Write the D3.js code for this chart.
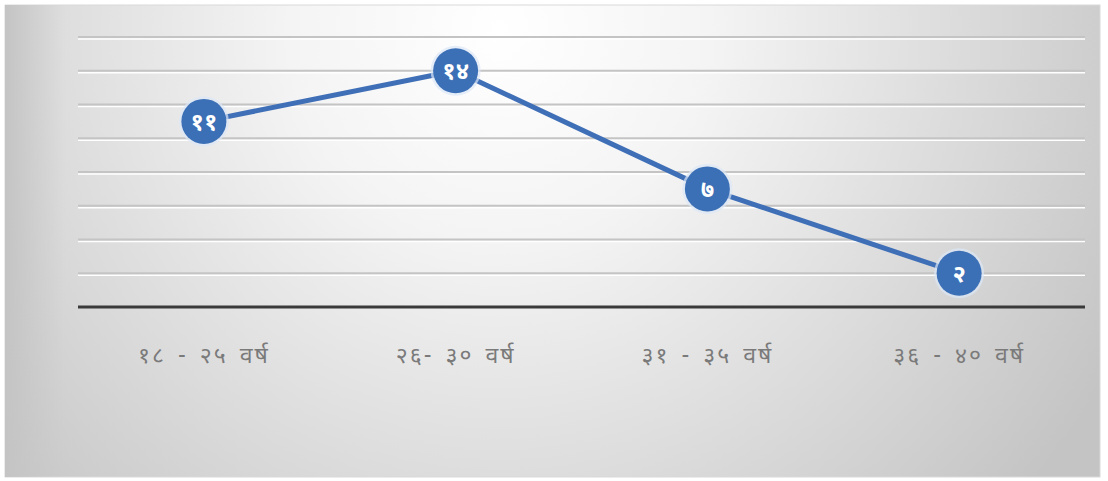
<!DOCTYPE html>
<html>
<head>
<meta charset="utf-8">
<script src="https://cdn.jsdelivr.net/npm/d3@7"></script>
<style>
  html, body { margin: 0; padding: 0; background: #fff; }
  svg { display: block; }
</style>
</head>
<body>
<div id="chart"></div>
<script>
var categories = ['१८ - २५ वर्ष', '२६- ३० वर्ष', '३१ - ३५ वर्ष', '३६ - ४० वर्ष'];
var values = [11, 14, 7, 2];
var valueLabels = ['११', '१४', '७', '२'];
var yTicks = [2, 4, 6, 8, 10, 12, 14, 16];

var width = 1108, height = 481;
var plotLeft = 78, plotRight = 1085, plotTop = 37, plotBottom = 307;

var svg = d3.select('#chart').append('svg')
    .attr('width', width)
    .attr('height', height);

var defs = svg.append('defs');
var bg = defs.append('radialGradient')
    .attr('id', 'bg')
    .attr('gradientUnits', 'userSpaceOnUse')
    .attr('cx', 500).attr('cy', 30).attr('r', 700)
    .attr('fx', 500).attr('fy', 30);
bg.append('stop').attr('offset', '0%').attr('stop-color', '#ffffff');
bg.append('stop').attr('offset', '30%').attr('stop-color', '#f4f4f4');
bg.append('stop').attr('offset', '100%').attr('stop-color', '#c4c4c4');

var edge = defs.append('linearGradient').attr('id', 'edge');
edge.append('stop').attr('offset', '0%').attr('stop-color', '#c4c4c4');
edge.append('stop').attr('offset', '100%').attr('stop-color', '#c8c8c8').attr('stop-opacity', 0);

svg.append('rect')
    .attr('x', 5).attr('y', 5)
    .attr('width', 1095).attr('height', 472)
    .attr('fill', 'url(#bg)')
    .attr('stroke', '#d9d9d9');
svg.append('rect')
    .attr('x', 5).attr('y', 5)
    .attr('width', 60).attr('height', 472)
    .attr('fill', 'url(#edge)');

var x = d3.scaleBand().domain(categories).range([plotLeft, plotRight]);
var y = d3.scaleLinear().domain([0, 16]).range([plotBottom, plotTop]);

// gridlines with a light emboss
var grid = svg.append('g');
grid.selectAll('line.shadow').data(yTicks).enter().append('line')
    .attr('x1', plotLeft).attr('x2', plotRight)
    .attr('y1', function(d) { return y(d) + 2; })
    .attr('y2', function(d) { return y(d) + 2; })
    .style('stroke', '#ffffff').style('stroke-width', 1.5);
grid.selectAll('line.main').data(yTicks).enter().append('line')
    .attr('x1', plotLeft).attr('x2', plotRight)
    .attr('y1', function(d) { return y(d); })
    .attr('y2', function(d) { return y(d); })
    .style('stroke', '#c4c4c4').style('stroke-width', 2);

// baseline
svg.append('line')
    .attr('x1', plotLeft).attr('x2', plotRight)
    .attr('y1', y(0)).attr('y2', y(0))
    .style('stroke', '#3a3a3a').style('stroke-width', 3);

var xAxis = svg.append('g')
    .attr('transform', 'translate(0,' + y(0) + ')')
    .call(d3.axisBottom(x).tickSize(0).tickPadding(40));
xAxis.select('.domain').remove();
xAxis.selectAll('text')
    .style('font-family', '"Noto Sans Devanagari", "Lohit Devanagari", "Noto Sans", sans-serif')
    .style('font-size', '23px')
    .style('letter-spacing', '2px')
    .style('word-spacing', '4px')
    .style('fill', '#7a7a7a');

var cx = function(i) { return x(categories[i]) + x.bandwidth() / 2; };

var line = d3.line()
    .x(function(d, i) { return cx(i); })
    .y(function(d) { return y(d); });

svg.append('path')
    .datum(values)
    .attr('d', line)
    .style('fill', 'none')
    .style('stroke', '#3f6fb7')
    .style('stroke-width', 5)
    .style('stroke-linejoin', 'round');

var pts = svg.selectAll('.pt').data(values).enter().append('g')
    .attr('transform', function(d, i) { return 'translate(' + cx(i) + ',' + y(d) + ')'; });

pts.append('circle')
    .attr('r', 25)
    .style('fill', '#dbe7f7')
    .style('opacity', 0.7);
pts.append('circle')
    .attr('r', 22.5)
    .style('fill', '#3b6fb6');

pts.append('text')
    .attr('dy', '0.35em')
    .style('text-anchor', 'middle')
    .style('font-family', '"Noto Sans Devanagari", "Lohit Devanagari", "Noto Sans", sans-serif')
    .style('font-size', '24px')
    .style('font-weight', 'bold')
    .style('fill', '#ffffff')
    .text(function(d, i) { return valueLabels[i]; });
</script>
</body>
</html>
